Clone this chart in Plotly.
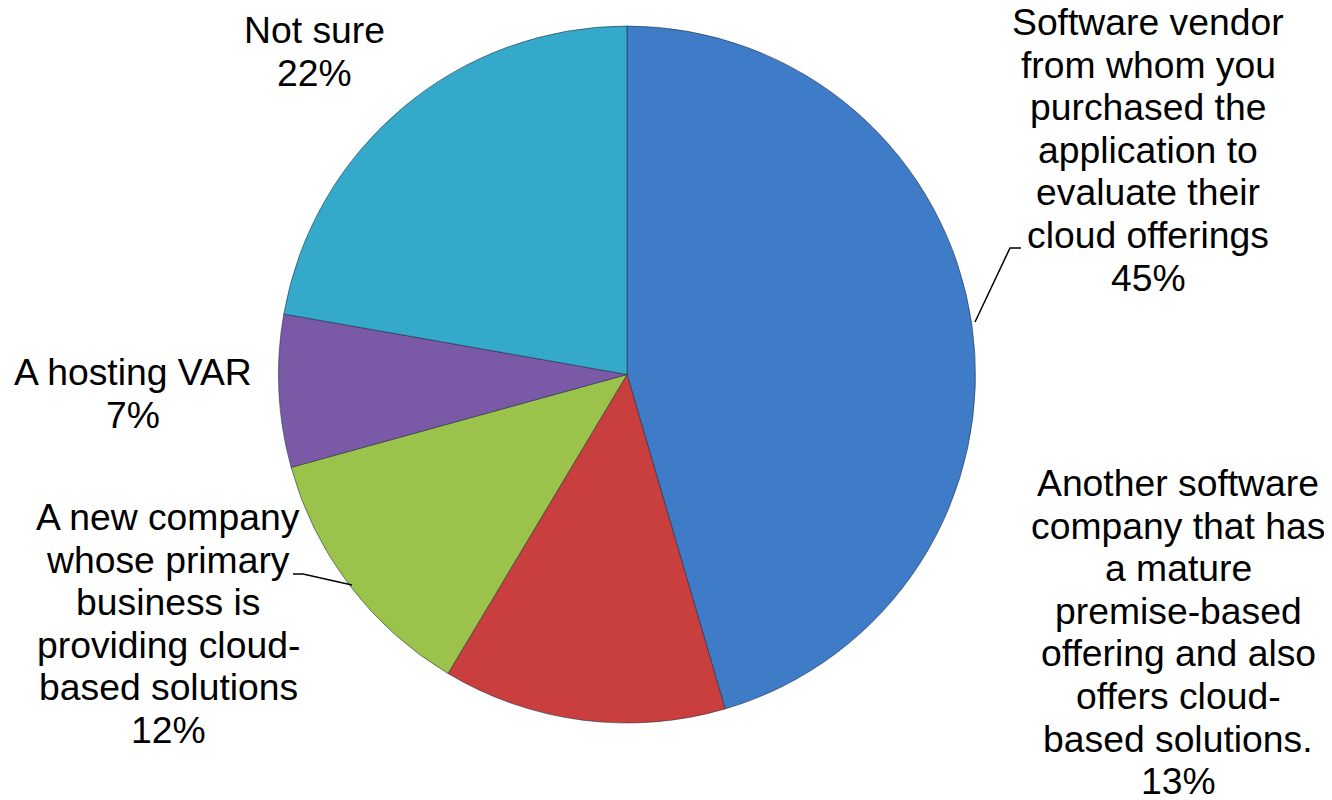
import plotly.graph_objects as go

# ---- data ----
categories = [
    ["Software vendor", "from whom you", "purchased the", "application to", "evaluate their", "cloud offerings"],
    ["Another software", "company that has", "a mature", "premise-based", "offering and also", "offers cloud-", "based solutions."],
    ["A new company", "whose primary", "business is", "providing cloud-", "based solutions"],
    ["A hosting VAR"],
    ["Not sure"],
]
values = [45, 13, 12, 7, 22]
colors = ["#3F7CC8", "#C83F3D", "#9BC34B", "#7A5AA6", "#34A9C9"]

# ---- layout constants (pixels in the 1332x800 screenshot) ----
OFF = 8                     # page body margin
W, H = 1332 - OFF, 800 - OFF
FONT = "Liberation Sans, Arial, sans-serif"
FS = 37.3
LINE = 42.6
# label anchor: (center x, baseline of first line)
label_pos = [(1148, 35), (1178, 496), (168, 530), (133, 385), (314, 43)]
cx, cy, r = 627, 374.5, 348.5


def px(x):
    return (x - OFF) / W


def py(y):
    return 1 - (y - OFF) / H


total = sum(values)
pct = [f"{round(v / total * 100)}%" for v in values]

fig = go.Figure(go.Pie(
    labels=[" ".join(c) for c in categories],
    values=values,
    sort=False,
    direction="clockwise",
    rotation=0,
    textinfo="none",
    hoverinfo="skip",
    marker=dict(colors=colors, line=dict(color="rgba(30,40,60,0.55)", width=1)),
    domain=dict(x=[px(cx - r), px(cx + r)], y=[py(cy + r), py(cy - r)]),
    showlegend=False,
))

annotations = []
for lines, p, (x0, yb) in zip(categories, pct, label_pos):
    all_lines = list(lines) + [p]
    for i, t in enumerate(all_lines):
        base = yb + i * LINE
        ymid = base - 0.3465 * FS
        annotations.append(dict(
            text=t, x=px(x0), y=py(ymid), xref="paper", yref="paper",
            xanchor="center", yanchor="middle", showarrow=False,
            font=dict(family=FONT, size=FS, color="#000000"),
            borderpad=0,
        ))


def path(pts):
    return "M " + " L ".join(f"{px(x)},{py(y)}" for x, y in pts)


shapes = [
    dict(type="path", xref="paper", yref="paper",
         path=path([(975, 322), (1010, 248), (1021, 248)]),
         line=dict(color="black", width=1.5)),
    dict(type="path", xref="paper", yref="paper",
         path=path([(293, 574), (303, 574), (352, 585)]),
         line=dict(color="black", width=1.5)),
]

fig.update_layout(
    width=W, height=H,
    margin=dict(l=0, r=0, t=0, b=0),
    paper_bgcolor="white", plot_bgcolor="white",
    annotations=annotations, shapes=shapes,
)

fig.write_html("out.html")
